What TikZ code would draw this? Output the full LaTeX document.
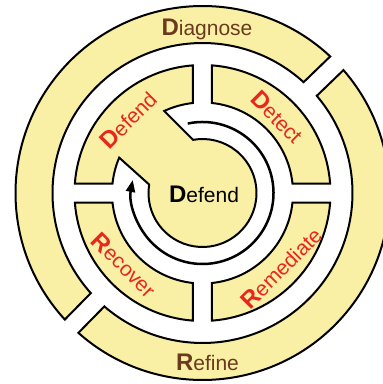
\documentclass[tikz,border=0pt]{standalone}
\usepackage{fontspec}
\setmainfont{Liberation Sans}
\usetikzlibrary{arrows.meta}
\definecolor{ringfill}{HTML}{F9F0A6}
\definecolor{lblred}{HTML}{E8261E}
\definecolor{lblbrown}{HTML}{6B3A1E}
\newcommand{\BD}{{\fontsize{24}{25}\selectfont\bfseries D}}
\newcommand{\BR}{{\fontsize{24}{25}\selectfont\bfseries R}}
\begin{document}
\begin{tikzpicture}[x=1pt,y=1pt,
  ring/.style={fill=ringfill, draw=black, line width=2pt, line join=miter},
  lbl/.style={font=\fontsize{21}{25}\selectfont, inner sep=0pt},
  flow/.style={draw=black, line width=2.5pt, -{Triangle[length=12pt,width=9pt]}}]
\useasboundingbox (-202.5,-191) rectangle (180.5,193);
\clip (-202.5,-191) rectangle (180.5,193);
\fill[white] (-202.5,-191) rectangle (180.5,193);
\pgfmathsetmacro\g{9.5}
\pgfmathsetmacro\aa{asin(\g/187)}
\pgfmathsetmacro\ab{asin(\g/150)}
\pgfmathsetmacro\qo{asin(\g/128)}
\pgfmathsetmacro\qi{asin(\g/90.5)}
% outer ring: Diagnose
\pgfmathsetmacro\da{44+\aa}\pgfmathsetmacro\db{225.5-\aa}
\pgfmathsetmacro\dc{225.5-\ab}\pgfmathsetmacro\dd{44+\ab}
\path[ring] (\da:187) arc[start angle=\da, end angle=\db, radius=187]
  -- (\dc:150) arc[start angle=\dc, end angle=\dd, radius=150] -- cycle;
% outer ring: Refine
\pgfmathsetmacro\ra{225.5+\aa}\pgfmathsetmacro\rb{404-\aa}
\pgfmathsetmacro\rc{404-\ab}\pgfmathsetmacro\rd{225.5+\ab}
\path[ring] (\ra:187) arc[start angle=\ra, end angle=\rb, radius=187]
  -- (\rc:150) arc[start angle=\rc, end angle=\rd, radius=150] -- cycle;
% inner quadrants
\foreach \rot in {0,-90,180}{
  \pgfmathsetmacro\sa{\rot+\qo}\pgfmathsetmacro\sb{\rot+90-\qo}
  \pgfmathsetmacro\sc{\rot+90-\qi}\pgfmathsetmacro\sd{\rot+\qi}
  \path[ring] (\sa:128) arc[start angle=\sa, end angle=\sb, radius=128]
    -- (\sc:90.5) arc[start angle=\sc, end angle=\sd, radius=90.5] -- cycle;
}
% Defend quadrant joined with centre disc
\pgfmathsetmacro\fa{90+\qo}\pgfmathsetmacro\fb{180-\qo}
\pgfmathsetmacro\fc{180-\qi}\pgfmathsetmacro\fd{90+\qi}
\path[ring] (\fa:128) arc[start angle=\fa, end angle=\fb, radius=128]
  -- (\fc:90.5) arc[start angle=\fc, end angle=157, radius=90.5]
  -- (171:54) arc[start angle=171, end angle=460, radius=54]
  -- (115:90.5) arc[start angle=115, end angle=\fd, radius=90.5] -- cycle;
% spiral arrow
\coordinate (arrstart) at (102:71);
\draw[flow] (arrstart) arc[start angle=102, end angle=-190.6, radius=71];
% labels
\node[lbl, text=lblbrown, anchor=base] (diag) at (4.5,158) {\BD iagnose};
\node[lbl, text=lblbrown, anchor=base] (refine) at (5,-177.3) {\BR efine};
\node[lbl, text=black, anchor=base] (centre) at (1.5,-9) {\BD efend};
\node[lbl, text=lblred, rotate=45] (defend) at (-74.5,73) {\BD efend};
\node[lbl, text=lblred, rotate=-45] (detect) at (74.5,76) {\BD etect};
\node[lbl, text=lblred, rotate=45] (remed) at (78.5,-75) {\BR emediate};
\node[lbl, text=lblred, rotate=-45] (recover) at (-78.5,-72) {\BR ecover};
\end{tikzpicture}
\end{document}
